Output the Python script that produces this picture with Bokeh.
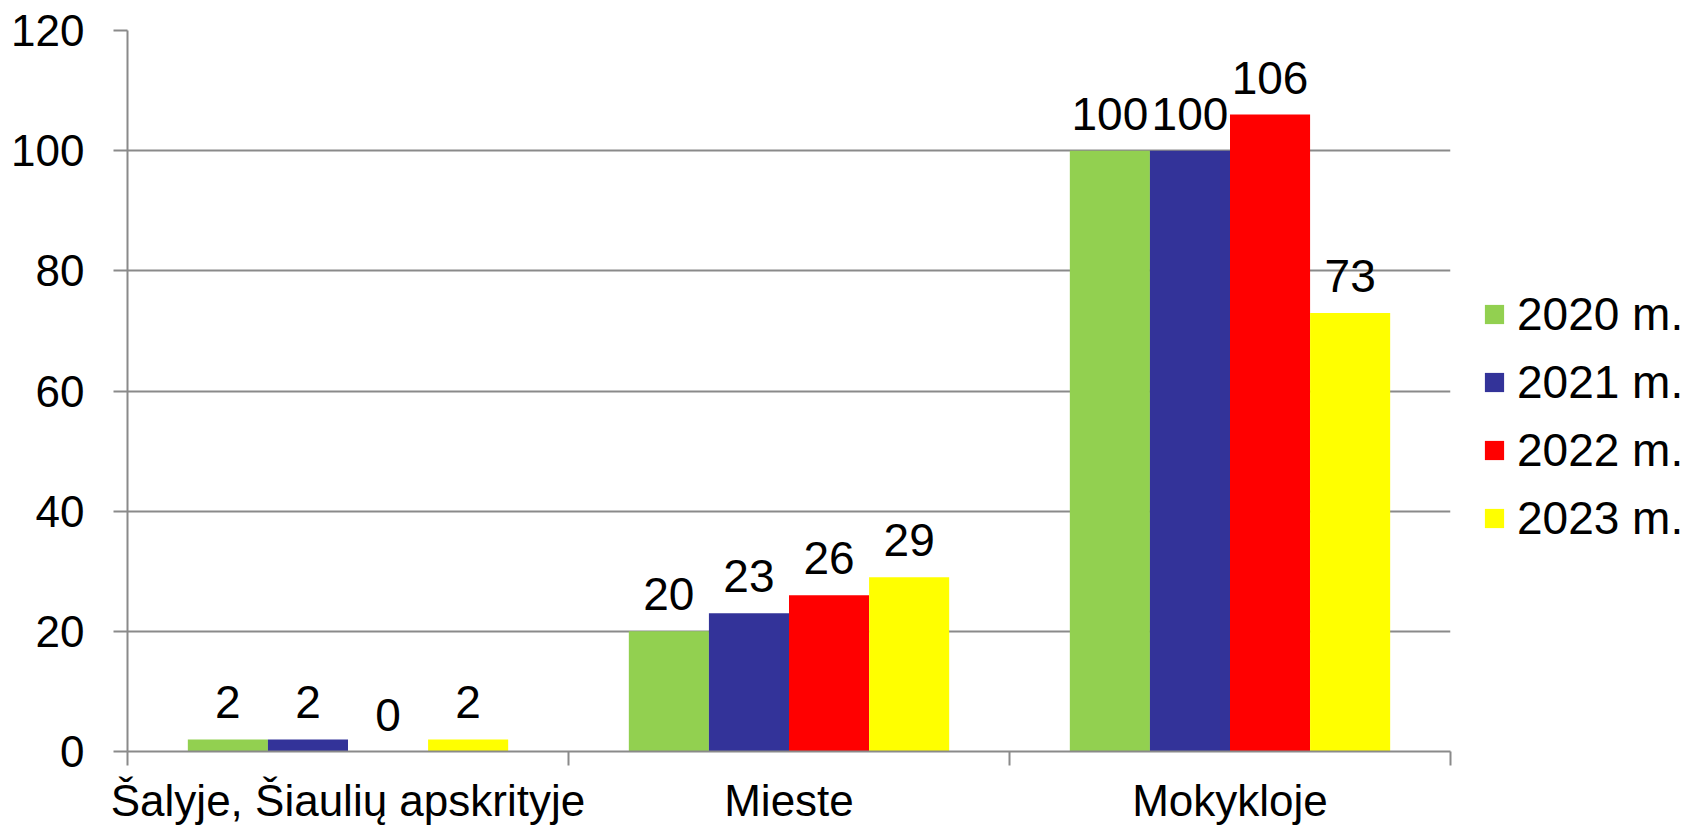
from bokeh.plotting import figure
from bokeh.layouts import row
from bokeh.models import FixedTicker, Legend, LegendItem, ColumnDataSource, Range1d
from bokeh.core.properties import value
from bokeh.embed import file_html
from bokeh.resources import INLINE

categories = ["Šalyje, Šiaulių apskrityje", "Mieste", "Mokykloje"]
years = ["2020 m.", "2021 m.", "2022 m.", "2023 m."]
v2020 = [2, 20, 100]
v2021 = [2, 23, 100]
v2022 = [0, 26, 106]
v2023 = [2, 29, 73]
colors = ["#92D050", "#333399", "#FF0000", "#FFFF00"]
yticks = [0, 20, 40, 60, 80, 100, 120]

series = [v2020, v2021, v2022, v2023]
FONT = "Liberation Sans"
GRID = "#8A8A8A"
BW = 0.1816

W1, H = 1452, 827
p = figure(width=W1, height=H, output_backend="svg", toolbar_location=None,
           x_range=Range1d(0, len(categories)), y_range=Range1d(0, 120),
           min_border_left=127, min_border_right=2, min_border_top=30,
           min_border_bottom=76)
p.outline_line_color = None
p.background_fill_color = "white"
p.border_fill_color = "white"

# y axis
p.yaxis.ticker = FixedTicker(ticks=yticks)
p.yaxis.major_label_text_font = FONT
p.yaxis.major_label_text_font_size = "44px"
p.yaxis.major_label_text_color = "black"
p.yaxis.major_label_standoff = 29
p.yaxis.major_tick_out = 14
p.yaxis.major_tick_in = 0
p.yaxis.minor_tick_line_color = None
p.yaxis.axis_line_color = GRID
p.yaxis.axis_line_width = 2
p.yaxis.major_tick_line_color = GRID
p.yaxis.major_tick_line_width = 2
p.ygrid.grid_line_color = GRID
p.ygrid.grid_line_width = 2
p.ygrid.ticker = FixedTicker(ticks=yticks)
p.xgrid.grid_line_color = None

# x axis: labels at category centres, ticks at category boundaries
centers = [i + 0.5 for i in range(len(categories))]
bounds = list(range(len(categories) + 1))
p.xaxis.ticker = FixedTicker(ticks=centers, minor_ticks=bounds)
p.xaxis.major_label_overrides = {c: n for c, n in zip(centers, categories)}
p.xaxis.major_label_text_font = FONT
p.xaxis.major_label_text_font_size = "44px"
p.xaxis.major_label_text_color = "black"
p.xaxis.major_label_standoff = 10
p.xaxis.major_tick_line_color = None
p.xaxis.major_tick_out = 0
p.xaxis.major_tick_in = 0
p.xaxis.minor_tick_out = 14
p.xaxis.minor_tick_in = 0
p.xaxis.minor_tick_line_color = GRID
p.xaxis.minor_tick_line_width = 2
p.xaxis.axis_line_color = GRID
p.xaxis.axis_line_width = 2

# legend lives in its own small figure to the right
lg = figure(width=1690 - W1, height=H, output_backend="svg", toolbar_location=None,
            x_range=Range1d(0, 1), y_range=Range1d(0, 1),
            min_border=0, min_border_left=0, min_border_right=0,
            min_border_top=0, min_border_bottom=0)
lg.axis.visible = False
lg.grid.visible = False
lg.outline_line_color = None
lg.background_fill_color = "white"
lg.border_fill_color = "white"

items = []
for k, (vals, col, yr) in enumerate(zip(series, colors, years)):
    xs = [c + (k - 1.5) * BW for c in centers]
    src = ColumnDataSource(dict(x=xs, top=vals, lab=[str(v) for v in vals]))
    p.vbar(x="x", top="top", bottom=0, width=BW, source=src,
           fill_color=col, line_color=None)
    p.text(x="x", y="top", text="lab", source=src, y_offset=-37,
           text_align="center", text_baseline="alphabetic",
           text_font=value(FONT), text_font_size="46px", text_color="black")
    # zero-size proxy glyph so the legend can draw its colour swatch
    proxy = lg.vbar(x=[0], top=[0], bottom=[0], width=0, fill_color=col,
                    line_color=None)
    items.append(LegendItem(label=yr, renderers=[proxy]))

legend = Legend(items=items, location=(30, 206), orientation="vertical",
                glyph_width=24, glyph_height=24, label_standoff=11,
                label_height=54, label_text_font=FONT, label_text_font_size="46px",
                label_text_color="black", spacing=14, padding=0, margin=0,
                border_line_color=None, background_fill_alpha=0)
lg.add_layout(legend, "center")

layout = row(p, lg, spacing=0)
open("out.html", "w").write(file_html(layout, INLINE))
